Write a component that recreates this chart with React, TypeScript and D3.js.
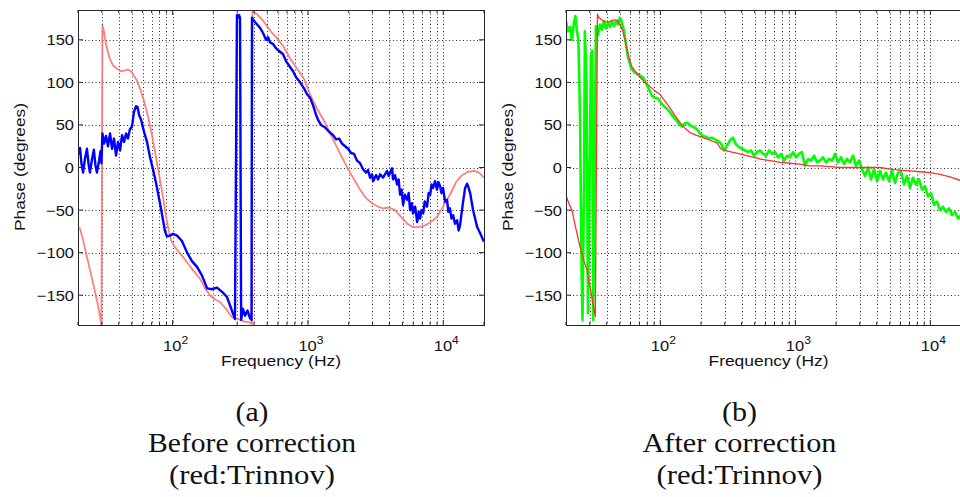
import React from 'react';
import * as d3 from 'd3';

// axis ticks
const phaseTicks = [-150, -100, -50, 0, 50, 100, 150];
const decadeTicks = [100, 1000, 10000];
const decadeExps = ['2', '3', '4'];

// (a) before correction: measured (blue) phase, [Hz, degrees]
const blueBefore: [number, number][] = [
  [20, 15], [20.7, 23], [21.2, 5], [21.8, -6], [22.5, 10], [23.3, 22], [23.9, 5], [24.5, -6],
  [25.4, 10], [26.2, 21], [26.9, 3], [27.6, -6], [28.6, 8], [29.3, 19], [29.8, 5], [30.3, 40],
  [31.1, 28], [32.2, 37], [33.3, 25], [34.5, 40], [35.7, 22], [36.9, 34], [38.2, 14], [39.5, 30],
  [40.9, 20], [42.3, 38], [43.8, 30], [45.3, 40], [46.8, 34], [48.4, 45], [50.1, 48], [51.8, 65],
  [53.7, 72], [55.1, 71], [56.5, 62], [58.5, 56], [61.5, 42], [64.7, 30], [68.1, 12], [71.6, -2],
  [75.4, -18], [80.7, -42], [85, -62], [87.9, -75], [91, -81], [95.7, -80], [100.7, -78], [107.9, -80],
  [117, -86], [128, -100], [139, -110], [152, -117], [165, -127], [180, -142], [195, -143], [213, -141],
  [232, -146], [252, -152], [270, -165], [289, -178], [299, 179], [305, 176], [310, 179], [315, 176],
  [321, -179], [331, -166], [343, -174], [358, -168], [373, -177], [383, -179], [386, 176],
  [400, 172], [421, 168], [443, 164], [466, 158], [490, 150], [507, 153], [525, 147], [552, 145],
  [581, 140], [622, 136], [655, 133], [689, 125], [738, 118], [777, 113], [817, 106], [875, 100],
  [936, 93], [985, 86], [1037, 82], [1091, 73], [1148, 62], [1188, 56], [1250, 50], [1340, 47],
  [1433, 42], [1535, 38], [1614, 33], [1700, 34], [1787, 28], [1881, 25], [1981, 22], [2084, 17],
  [2193, 16], [2307, 8], [2428, 5], [2555, -2], [2690, -6], [2782, -3], [2877, -12], [2977, -8],
  [3030, -16], [3190, -9], [3300, -14], [3415, -8], [3590, -12], [3845, -4], [3950, -10], [4188, -1],
  [4256, -14], [4400, -9], [4560, -20], [4680, -14], [4797, -32], [4920, -26], [5050, -44], [5200, -32],
  [5405, -38], [5550, -30], [5690, -50], [5850, -42], [5985, -54], [6200, -46], [6410, -64], [6600, -52],
  [6742, -60], [6900, -50], [7100, -54], [7300, -40], [7590, -46], [7800, -30], [8000, -32], [8200, -20],
  [8410, -24], [8700, -16], [8995, -26], [9200, -17], [9480, -22], [9700, -30], [9970, -24], [10300, -40],
  [10670, -38], [10900, -52], [11200, -48], [11500, -60], [11830, -56], [12200, -66], [12650, -62],
  [13000, -74], [13300, -68], [13700, -52], [14020, -40], [14500, -24], [15000, -19], [15400, -24],
  [15800, -30], [16600, -50], [17800, -70], [18700, -77], [19680, -85], [20000, -87],
];

// (a) before correction: Trinnov (red) phase
const redBefore: [number, number][] = [
  [20, -70], [20.7, -72], [21.8, -85], [22.9, -100], [24.5, -120], [26.2, -140], [28.1, -162],
  [29.8, -185], [30.3, 167], [31.1, 160], [32.2, 145], [33.3, 135], [34.5, 127], [36.3, 120],
  [38.8, 116], [41.6, 113], [44.5, 114], [46.8, 115], [49.3, 113], [51.8, 108], [54.5, 102],
  [57.4, 93], [61.5, 78], [65.8, 60], [70.4, 38], [75.4, 12], [79.4, -8], [83.6, -28], [87.9, -50],
  [92.5, -70], [97.3, -85], [102.5, -92], [109.7, -98], [119.4, -105], [130, -113], [144, -122],
  [160, -131], [174, -142], [189, -150], [206, -155], [224, -158], [248, -166], [275, -176],
  [305, -178], [343, -181], [373, -182], [386, -184], [389, 184], [421, 180], [458, 174], [499, 166],
  [543, 158], [591, 152], [655, 143], [738, 128], [832, 116], [936, 104], [1037, 86], [1168, 69],
  [1315, 55], [1456, 40], [1614, 26], [1787, 12], [1981, -2], [2193, -14], [2428, -26], [2690, -36],
  [2977, -42], [3300, -46], [3590, -48], [3983, -47], [4408, -50], [4878, -58], [5405, -66],
  [5985, -70], [6626, -70], [7340, -68], [8128, -64], [8995, -58], [9970, -46], [11200, -32],
  [12450, -17], [13780, -9], [15270, -5], [16900, -4], [18400, -6], [20000, -12],
];

// (b) after correction: measured (green) phase
const greenAfter: [number, number][] = [
  [20, 172], [20.7, 160], [21.4, 165], [22.1, 150], [22.9, 170], [23.5, 178], [24.1, 160], [24.7, 150],
  [25.4, 60], [26.1, -120], [26.5, -179], [27.2, -20], [27.6, 160], [28.4, 100], [29.1, -171],
  [29.9, -20], [30.6, 130], [31.2, 137], [31.8, -179], [32.5, -30], [33.3, 166], [34.5, 155],
  [35.7, 168], [37.0, 162], [38.2, 172], [39.6, 163], [40.9, 170], [42.4, 165], [43.8, 172],
  [45.4, 166], [46.9, 172], [48.5, 168], [50.2, 176], [52.0, 170], [53.8, 160], [55.6, 145],
  [57.5, 130], [60.5, 118], [63.8, 112], [67.1, 110], [70.7, 108], [74.3, 106], [78.3, 99], [82.4, 92],
  [86.7, 84], [91.3, 82], [96, 81], [101, 76], [106.4, 72], [112, 69], [117.8, 65], [124, 60],
  [130.6, 56], [137.4, 51], [145, 48], [152.3, 52], [160.3, 52], [168.7, 49], [177.6, 47], [187, 45],
  [196.6, 40], [207, 37], [217.8, 36], [229.3, 34], [241.3, 35], [254, 33], [267.3, 31], [281.4, 28],
  [296.2, 20], [311.8, 26], [328.2, 32], [345, 35], [363.6, 27], [382.7, 24], [402.8, 22], [424, 20],
  [446.3, 18], [469.8, 20], [494.5, 14], [520.5, 18], [547.8, 20], [576.6, 16], [607, 14], [638.9, 20],
  [672.5, 16], [706, 18], [745.1, 12], [784.3, 16], [825.5, 8], [868.9, 14], [914.6, 12], [962.7, 18],
  [1013, 12], [1066, 16], [1119, 18], [1178, 2], [1241, 10], [1306, 8], [1375, 14], [1447, 6],
  [1521, 8], [1603, 12], [1687, 6], [1776, 10], [1869, 8], [1966, 16], [2071, 6], [2180, 12],
  [2294, 4], [2414, 10], [2541, 6], [2673, 14], [2814, 2], [2962, 8], [3118, -2], [3281, -10],
  [3453, 0], [3635, -14], [3826, -2], [4027, -16], [4235, -4], [4457, -14], [4691, -6], [4938, -16],
  [5197, -4], [5470, -18], [5757, -6], [6059, -4], [6377, -20], [6710, -10], [7063, -24], [7434, -12],
  [7825, -20], [8236, -14], [8669, -26], [9124, -22], [9602, -34], [10110, -30], [10640, -44],
  [11190, -40], [11780, -50], [12400, -46], [13050, -52], [13740, -48], [14460, -56], [15220, -52],
  [16020, -60], [16860, -56],
];

// (b) after correction: Trinnov (red) phase
const redAfter: [number, number][] = [
  [20, -33], [21.0, -42], [22.1, -50], [23.7, -72], [25.4, -93], [27.2, -110], [28.6, -120],
  [30.1, -140], [31.7, -160], [33.0, -175], [34.2, 180], [35.1, 176], [37.0, 173], [38.9, 171],
  [41.7, 171], [44.6, 173], [47.7, 173], [50.2, 168], [52.8, 160], [55.6, 145], [58.6, 128],
  [61.7, 118], [66.1, 112], [70.7, 106], [76.9, 100], [83.8, 95], [91.3, 90], [99.4, 86], [108.1, 78],
  [117.8, 70], [128.3, 61], [139.6, 53], [152.3, 46], [165.6, 41], [183.5, 38], [207, 35], [233, 32],
  [263, 29], [280, 22], [301, 20], [339.6, 18], [389, 16], [461.3, 13], [547.8, 10], [648.6, 8],
  [769.1, 6], [914.6, 5], [1081, 4], [1282, 2], [1521, 2], [1807, 1], [2142, 0], [2541, 0],
  [3010, 0], [3573, 0], [4235, 0], [5023, -2], [5958, -3], [7063, -4], [8375, -5], [9932, -6],
  [11780, -8], [13960, -11], [16560, -15], [20000, -25],
];

const W = 960;
const H = 497;
const TOP = 10;
const BOTTOM = 325;
const SANS = 'Liberation Sans, Arial, Helvetica, sans-serif';
const SERIF = 'Liberation Serif, Times New Roman, serif';

type Series = { data: [number, number][]; color: string; width: number; opacity?: number };

function Panel({ id, x0, x1, series, caption }: { id: string; x0: number; x1: number; series: Series[]; caption: string[] }) {
  const x = d3.scaleLog().domain([20, 20000]).range([x0, x1]);
  const y = d3.scaleLinear().domain([-185, 185]).range([BOTTOM, TOP]);
  const line = d3.line<[number, number]>().x(d => x(d[0])).y(d => y(d[1]));

  const minor: number[] = [];
  [10, 100, 1000, 10000].forEach(dec => {
    for (let k = 2; k <= 9; k++) {
      const f = k * dec;
      if (f >= 20 && f <= 20000) minor.push(f);
    }
  });

  const grid = '#2a2a2a';
  const axis = '#262626';
  const cx = (x0 + x1) / 2;
  const capX = cx - 29;

  return (
    <g>
      <defs>
        <clipPath id={id}>
          <rect x={x0} y={TOP} width={x1 - x0} height={BOTTOM - TOP} />
        </clipPath>
      </defs>
      {/* grid */}
      <g stroke={grid} strokeWidth={1} strokeDasharray="1,2.5">
        {[...minor, ...decadeTicks].map(f => (
          <line key={'v' + f} x1={Math.round(x(f)) + 0.5} x2={Math.round(x(f)) + 0.5} y1={TOP} y2={BOTTOM} />
        ))}
        {phaseTicks.map(v => (
          <line key={'h' + v} x1={x0} x2={x1} y1={Math.round(y(v)) + 0.5} y2={Math.round(y(v)) + 0.5} />
        ))}
      </g>
      {/* curves */}
      <g clipPath={`url(#${id})`} fill="none" strokeLinejoin="round">
        {series.map((s, i) => (
          <path key={i} d={line(s.data) || ''} stroke={s.color} strokeWidth={s.width} opacity={s.opacity ?? 1} />
        ))}
      </g>
      {/* box and ticks */}
      <rect x={x0 + 0.5} y={TOP + 0.5} width={x1 - x0} height={BOTTOM - TOP} fill="none" stroke={axis} strokeWidth={1} />
      <g stroke={axis} strokeWidth={1}>
        {decadeTicks.map(f => (
          <g key={'t' + f}>
            <line x1={x(f)} x2={x(f)} y1={BOTTOM} y2={BOTTOM - 5} />
            <line x1={x(f)} x2={x(f)} y1={TOP} y2={TOP + 5} />
          </g>
        ))}
        {minor.map(f => (
          <g key={'m' + f}>
            <line x1={x(f)} x2={x(f)} y1={BOTTOM} y2={BOTTOM - 3} />
            <line x1={x(f)} x2={x(f)} y1={TOP} y2={TOP + 3} />
          </g>
        ))}
        {phaseTicks.map(v => (
          <g key={'y' + v}>
            <line x1={x0} x2={x0 + 5} y1={y(v)} y2={y(v)} />
            <line x1={x1} x2={x1 - 5} y1={y(v)} y2={y(v)} />
          </g>
        ))}
      </g>
      {/* tick labels */}
      <g fontFamily={SANS} fontSize={15} fill="#111">
        {phaseTicks.map(v => (
          <text key={'yl' + v} transform={`translate(${x0 - 4},${y(v) + 5.5}) scale(1.1,1)`} textAnchor="end">
            {v < 0 ? '\u2212' + Math.abs(v) : String(v)}
          </text>
        ))}
        {decadeTicks.map((f, i) => (
          <text key={'xl' + f} transform={`translate(${x(f) + 3},351) scale(1.1,1)`} textAnchor="middle">
            10<tspan dy={-7} fontSize={11}>{decadeExps[i]}</tspan>
          </text>
        ))}
        <text x={cx} y={366} textAnchor="middle" fontSize={15} textLength={120} lengthAdjust="spacingAndGlyphs">
          Frequency (Hz)
        </text>
        <text transform={`translate(${x0 - 53},167) rotate(-90)`} textAnchor="middle" fontSize={15} textLength={128} lengthAdjust="spacingAndGlyphs">
          Phase (degrees)
        </text>
      </g>
      {/* caption */}
      <g fontFamily={SERIF} fontSize={27} fill="#111" textAnchor="middle">
        <text x={capX} y={421} textLength={caption[0] === '(a)' ? 33 : 35} lengthAdjust="spacingAndGlyphs">{caption[0]}</text>
        <text x={capX} y={452} textLength={caption[1].startsWith('Before') ? 208 : 194} lengthAdjust="spacingAndGlyphs">{caption[1]}</text>
        <text x={capX} y={484} textLength={166} lengthAdjust="spacingAndGlyphs">{caption[2]}</text>
      </g>
    </g>
  );
}

export default function App() {
  return (
    <svg width={W} height={H} viewBox={`0 0 ${W} ${H}`} style={{ position: 'absolute', left: 0, top: 0, background: '#fff' }}>
      <rect width={W} height={H} fill="#fff" />
      <Panel
        id="clipA"
        x0={78}
        x1={484}
        series={[
          { data: redBefore, color: '#ff6a6a', width: 1.8, opacity: 0.85 },
          { data: blueBefore, color: '#0000ff', width: 2.4 },
        ]}
        caption={['(a)', 'Before correction', '(red:Trinnov)']}
      />
      <Panel
        id="clipB"
        x0={566}
        x1={971}
        series={[
          { data: greenAfter, color: '#00ff00', width: 2.6 },
          { data: redAfter, color: '#ff3030', width: 1.3 },
        ]}
        caption={['(b)', 'After correction', '(red:Trinnov)']}
      />
    </svg>
  );
}
